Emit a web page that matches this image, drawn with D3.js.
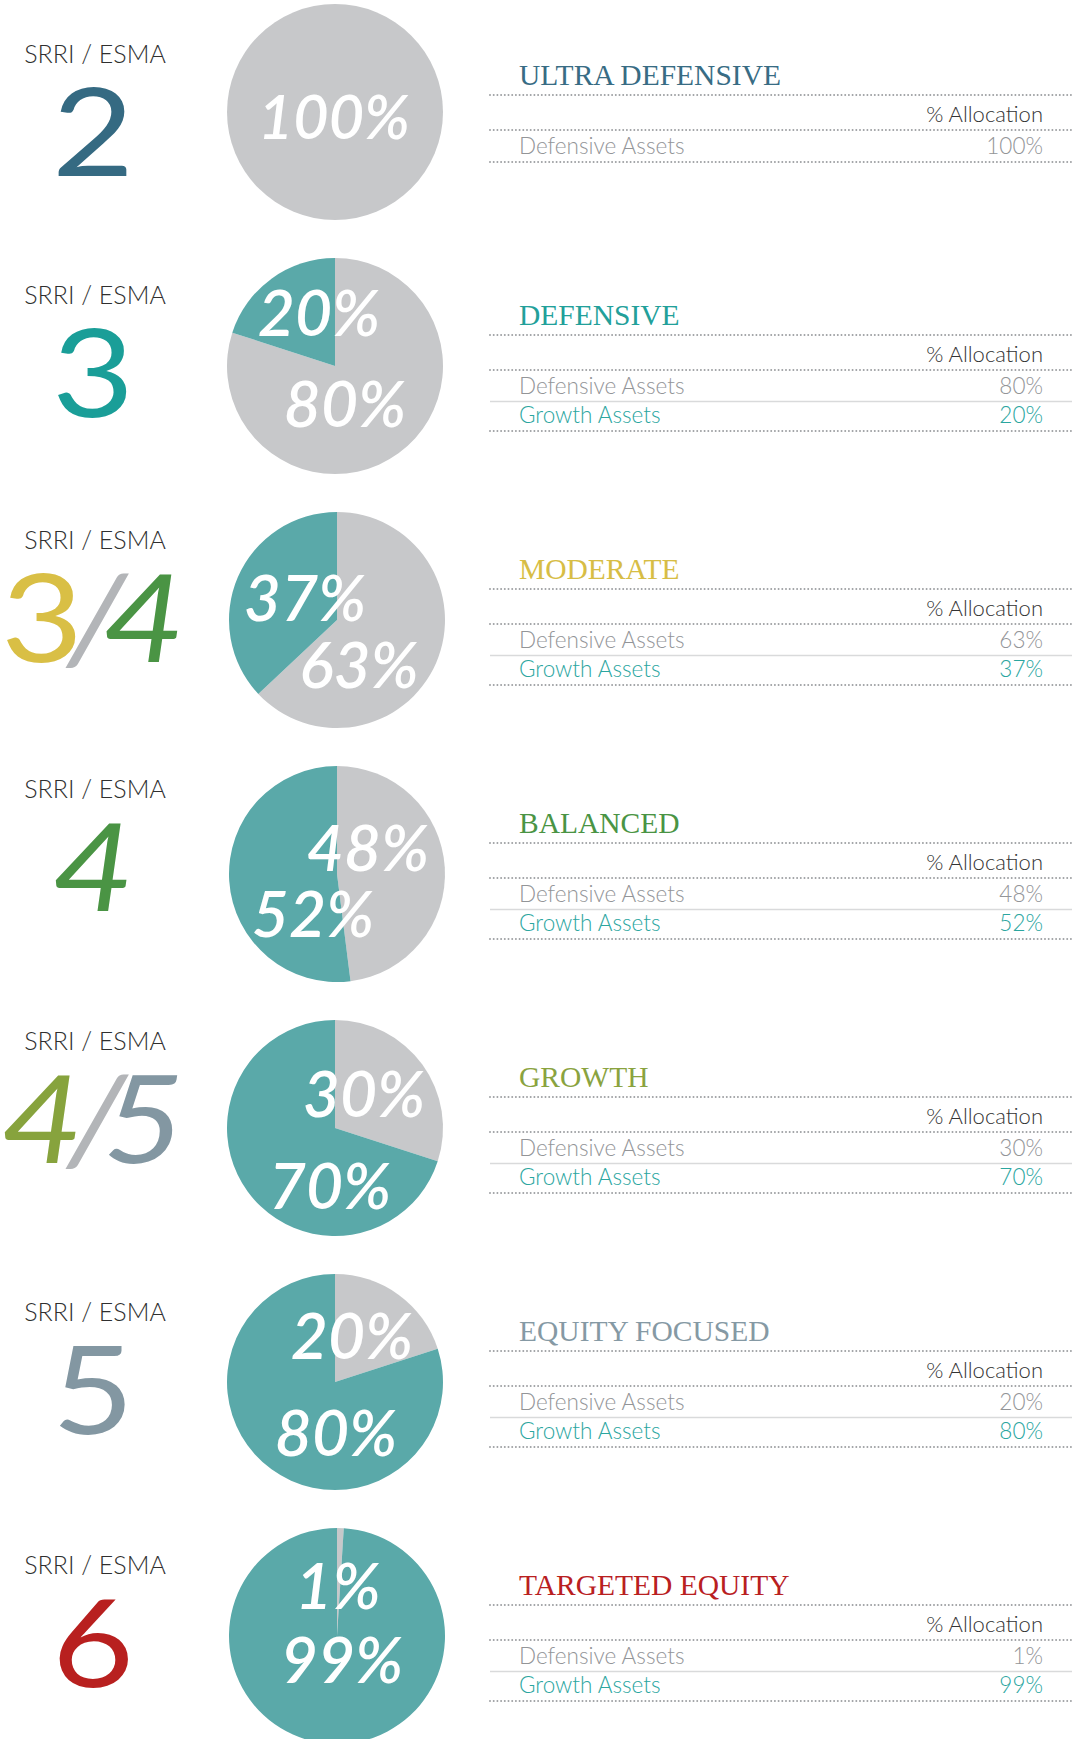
<!DOCTYPE html>
<html>
<head>
<meta charset="utf-8">
<script src="https://cdn.jsdelivr.net/npm/d3@7"></script>
<style>
  html, body { margin: 0; padding: 0; background: #fff; }
  svg { display: block; }
</style>
</head>
<body>
<div id="chart"></div>
<script>
// --- data ---
const srriLevels = ["2", "3", "3/4", "4", "4/5", "5", "6"];
const profiles = ["ULTRA DEFENSIVE", "DEFENSIVE", "MODERATE", "BALANCED", "GROWTH", "EQUITY FOCUSED", "TARGETED EQUITY"];
const assetClasses = ["Defensive Assets", "Growth Assets"];
const defensiveAlloc = [100, 80, 63, 48, 30, 20, 1];
const growthAlloc = [0, 20, 37, 52, 70, 80, 99];

// --- layout / style ---
const W = 1072, H = 1739;
const radius = 108;
const profileColors = ["#386c84", "#22a09a", "#d7bd45", "#4a9444", "#8aa33f", "#8599a4", "#b9201f"];
const numeralColors = [["#356a82"], ["#1a9e98"], ["#d9bf45", "#4a9444"], ["#4a9444"], ["#87a33d", "#8397a2"], ["#8397a2"], ["#b8201f"]];
const sliceColors = { "Defensive Assets": "#c7c8ca", "Growth Assets": "#5aa9a9" };
const textColors = { "Defensive Assets": "#939598", "Growth Assets": "#2ba69f" };
const pieNudge = [0, 0, 2, 2, 0, 0, 2];          // small horizontal shifts of pies
const srriOffset = [-49, -62, -71, -76, -78, -61, -62]; // "SRRI / ESMA" baseline vs pie centre
// hand-placed slice labels: [dx, dy] from pie centre, per asset class
const labelPos = [
  [[-1, 27], null],
  [[10, 61], [-16, -30]],
  [[22, 68], [-32, 1]],
  [[31, -3], [-24, 63]],
  [[29, -11], [-5, 81]],
  [[17, -23], [1, 74]],
  [[1, -27], [5, 47]]
];

const svg = d3.select("#chart").append("svg")
    .attr("width", W)
    .attr("height", H);

const rowY = d3.scaleLinear().domain([0, srriLevels.length - 1]).range([112, 1636]);
const pieX = 335, tableLeft = 490, tableRight = W, textLeft = 519, textRight = 1043;
const srriCenter = 95, numeralCenter = 93;
const bodyFont = "Lato, 'Open Sans', sans-serif";

const pie = d3.pie().sort(null).value(d => d.value);
const arc = d3.arc().innerRadius(0).outerRadius(radius);

function dotted(g, y) {
  g.append("line")
    .attr("x1", tableLeft).attr("x2", tableRight)
    .attr("y1", y).attr("y2", y)
    .attr("stroke", "#9ea0a3")
    .attr("stroke-width", 2)
    .attr("stroke-linecap", "round")
    .attr("stroke-dasharray", "0,3.7");
}

srriLevels.forEach((level, i) => {
  const cy = rowY(i);
  const row = svg.append("g");
  const assets = assetClasses.map((a, k) => ({ name: a, value: k === 0 ? defensiveAlloc[i] : growthAlloc[i] }));

  // left: SRRI / ESMA label and the big numeral
  const labelY = cy + srriOffset[i];
  row.append("text")
    .attr("x", srriCenter).attr("y", labelY)
    .attr("text-anchor", "middle")
    .style("font", `300 25px ${bodyFont}`)
    .attr("fill", "#2f2f2f")
    .text("SRRI / ESMA");

  const parts = level.split("/");
  const num = row.append("text")
    .attr("transform", `translate(${numeralCenter},${labelY + 113}) scale(1.16,1)`)
    .attr("text-anchor", "middle")
    .style("font", `400 122px ${bodyFont}`);
  parts.forEach((p, k) => {
    if (k > 0) {
      num.append("tspan")
        .attr("dx", -14)
        .attr("fill", "#b3b5b8")
        .style("font-style", "italic")
        .text("/");
    }
    num.append("tspan")
      .attr("dx", k > 0 ? -20 : 0)
      .attr("fill", numeralColors[i][k])
      .style("font-style", (p === "4" || k > 0) ? "italic" : "normal")
      .text(p);
  });

  // pie
  const cx = pieX + pieNudge[i];
  const pg = row.append("g").attr("transform", `translate(${cx},${cy})`);
  const arcs = pie(assets);
  pg.selectAll("path")
    .data(arcs)
    .enter().append("path")
      .attr("d", arc)
      .attr("fill", d => sliceColors[d.data.name]);

  pg.selectAll("text")
    .data(arcs.filter(d => d.data.value > 0 && labelPos[i][d.index]))
    .enter().append("text")
      .attr("x", d => labelPos[i][d.index][0])
      .attr("y", d => labelPos[i][d.index][1])
      .attr("text-anchor", "middle")
      .attr("fill", "#fff")
      .style("font", d => `italic 600 ${d.data.value === 100 ? 61 : 64}px ${bodyFont}`)
      .text(d => d.data.value + "%");

  // right: allocation table
  const shown = assets.filter(a => a.value > 0);
  const t = cy + (2 - shown.length) * 14;
  row.append("text")
    .attr("x", textLeft).attr("y", t - 41)
    .attr("fill", profileColors[i])
    .style("font", "29.5px 'Liberation Serif', 'DejaVu Serif', serif")
    .text(profiles[i]);
  dotted(row, t - 31);

  row.append("text")
    .attr("x", textRight).attr("y", t - 4)
    .attr("text-anchor", "end")
    .attr("fill", "#333")
    .style("font", `300 22px ${bodyFont}`)
    .text("% Allocation");
  dotted(row, t + 4);

  shown.forEach((a, k) => {
    const by = t + 28 + k * 29;
    row.append("text")
      .attr("x", textLeft).attr("y", by)
      .attr("fill", textColors[a.name])
      .style("font", `300 22.5px ${bodyFont}`)
      .text(a.name);
    row.append("text")
      .attr("x", textRight).attr("y", by)
      .attr("text-anchor", "end")
      .attr("fill", textColors[a.name])
      .style("font", `300 22.5px ${bodyFont}`)
      .text(a.value + "%");
    if (k < shown.length - 1) {
      row.append("line")
        .attr("x1", tableLeft).attr("x2", tableRight)
        .attr("y1", by + 7.5).attr("y2", by + 7.5)
        .attr("stroke", "#d9dadb")
        .attr("stroke-width", 1.5);
    } else {
      dotted(row, by + 8);
    }
  });
});
</script>
</body>
</html>
